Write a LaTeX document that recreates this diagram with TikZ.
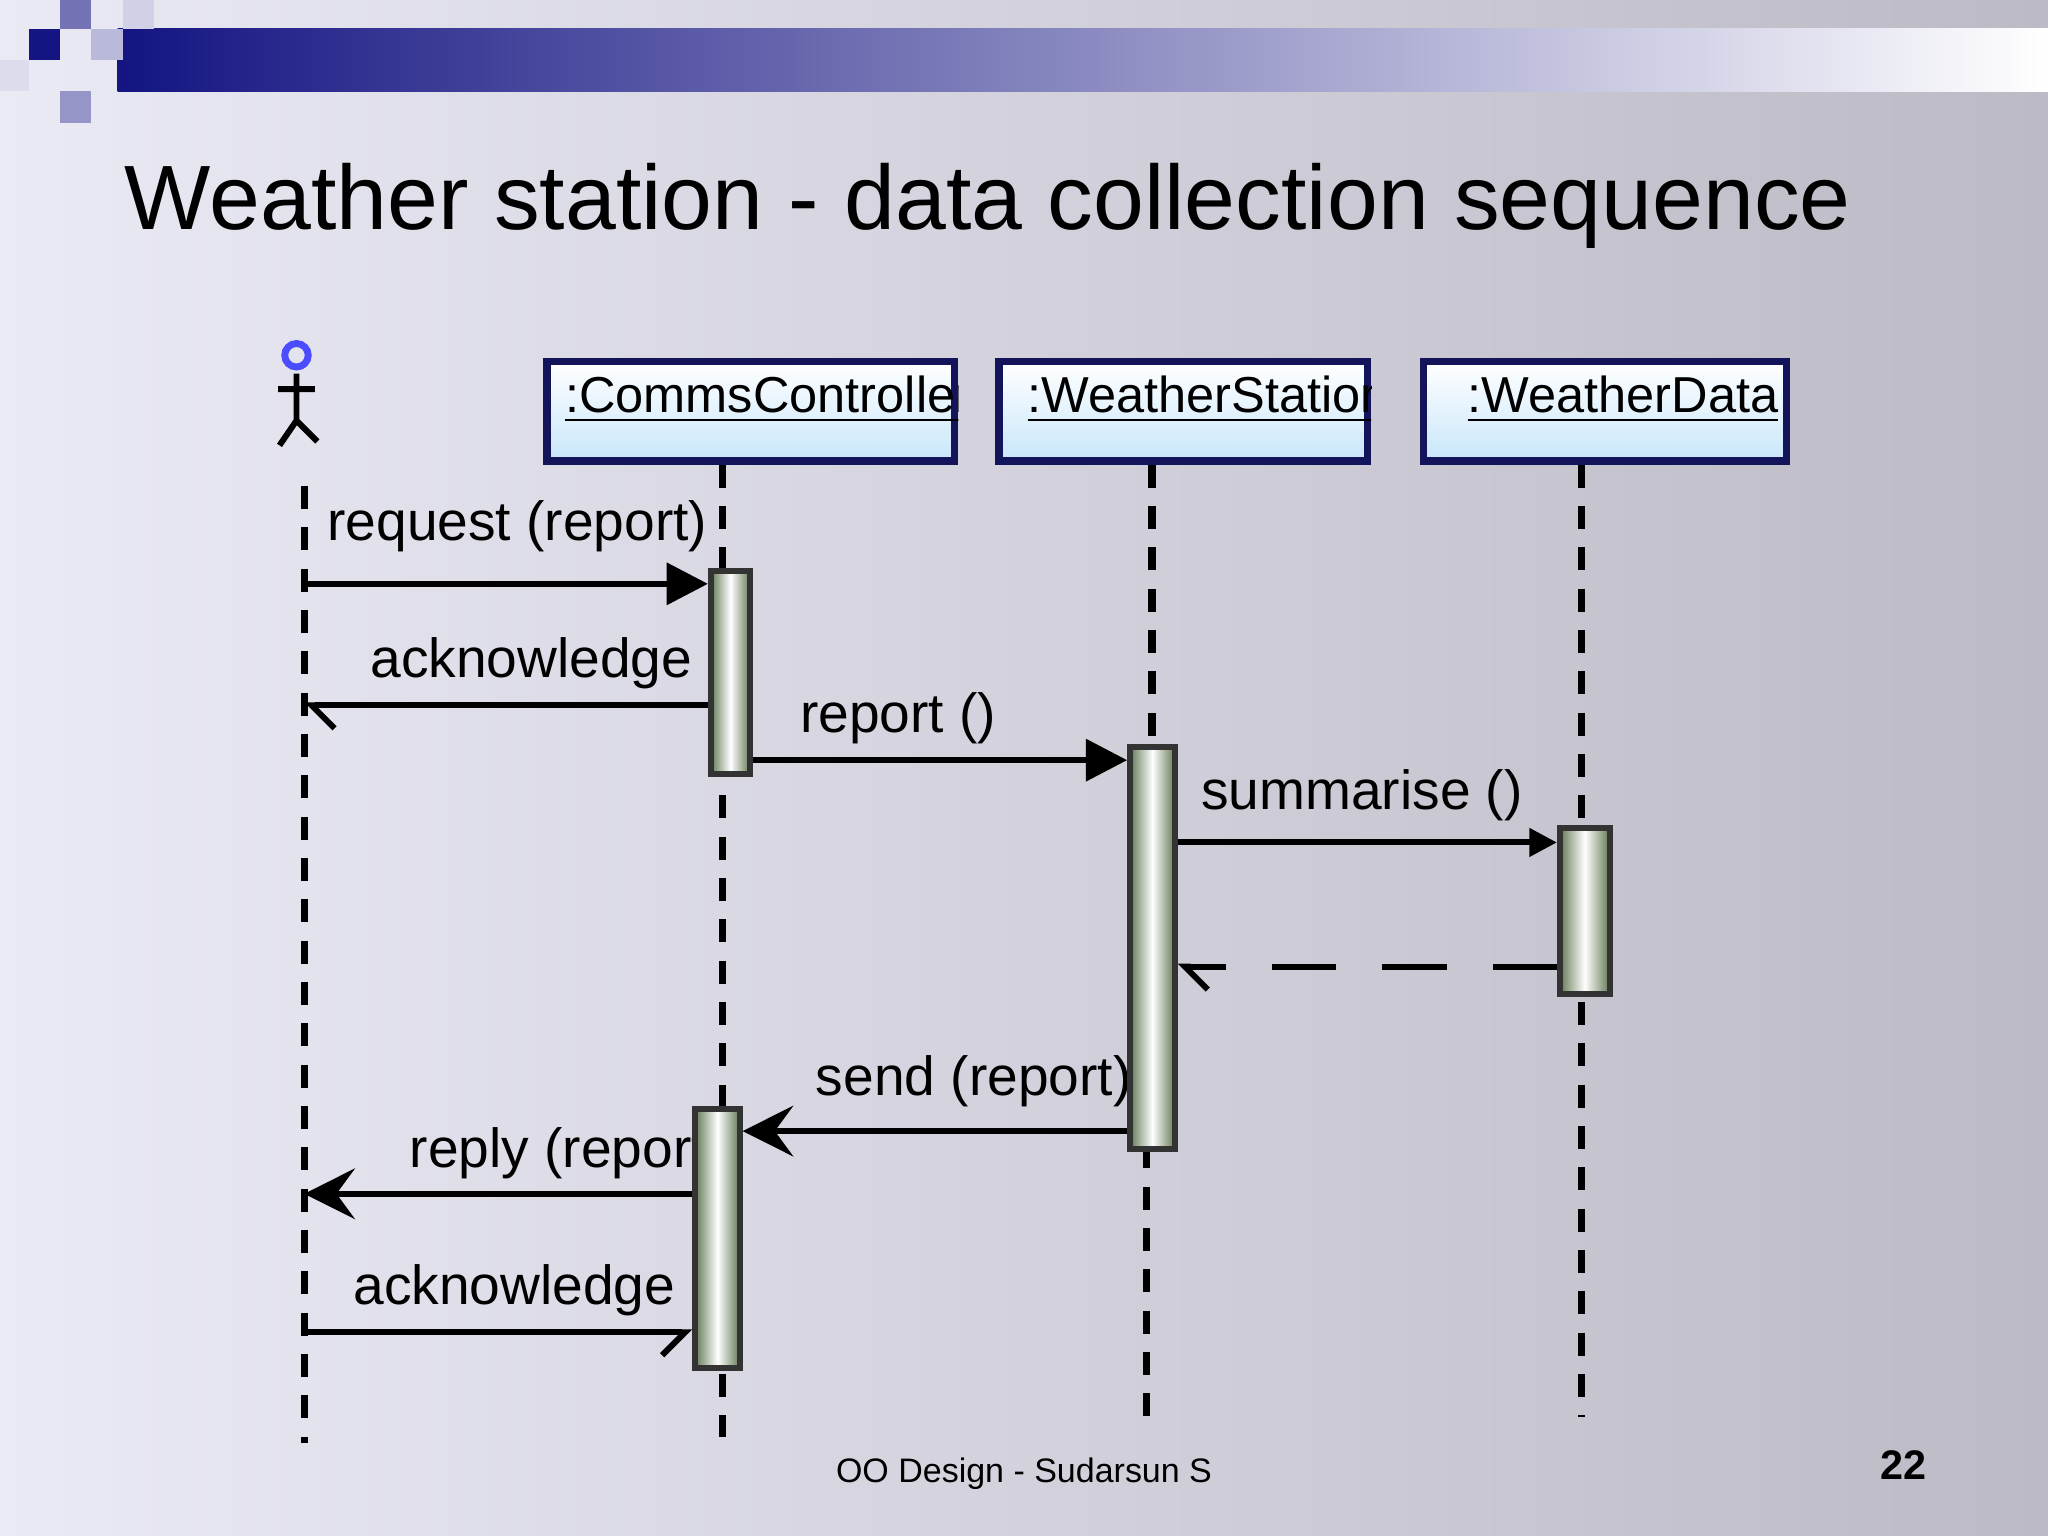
\documentclass[tikz,border=0pt]{standalone}
\usepackage{fontspec}
\setmainfont{Liberation Sans}
\usetikzlibrary{arrows.meta,shapes.geometric}
\definecolor{navy}{RGB}{20,20,130}
\definecolor{bgl}{RGB}{234,234,244}
\definecolor{bgr}{RGB}{188,186,196}
\definecolor{boxb}{RGB}{200,230,250}
\definecolor{actg}{RGB}{100,122,85}
\definecolor{bord}{RGB}{20,20,90}
\tikzset{
 obj/.style={draw=bord,line width=1.6pt,top color=white,bottom color=boxb,minimum height=0.76cm,inner sep=0,anchor=north west},
 act/.style={draw=black!80,line width=1.3pt,left color=actg,right color=actg,middle color=white,inner sep=0,anchor=north west},
 life/.style={line width=1.6pt,dash pattern=on 5pt off 4pt},
 msg/.style={line width=1.3pt},
 lab/.style={font=\fontsize{12}{13}\selectfont,anchor=base west,inner sep=0},
 otxt/.style={font=\fontsize{11}{12}\selectfont,anchor=base west,inner sep=0},
 full/.style={-{Triangle[length=9pt,width=9pt]}},
 open/.style={-{Straight Barb[harpoon,length=5pt,width=10pt]}},
 opensw/.style={-{Straight Barb[harpoon,swap,length=5pt,width=10pt]}},
 stl/.style={-{Stealth[length=11pt,width=11pt,inset=4pt]}},
}
\begin{document}
\begin{tikzpicture}[x=0.01cm,y=-0.01cm]
\useasboundingbox (0,0) rectangle (1568,1176);
\shade[left color=bgl,right color=bgr] (0,0) rectangle (1568,1176);
\shade[left color=navy,right color=white] (90,22) rectangle (1568,70);
\fill[navy] (22,22) rectangle (46,46);
\fill[navy!60] (46,0) rectangle (70,22);
\fill[navy!30] (70,22) rectangle (94,46);
\fill[navy!45] (46,70) rectangle (70,94);
\fill[navy!20] (94,0) rectangle (118,22);
\fill[navy!15] (0,46) rectangle (22,70);
\node[anchor=base west,inner sep=0,font=\fontsize{19.9}{22}\selectfont] (title) at (95,176) {Weather station - data collection sequence};
% actor
\draw[blue!70!white,line width=1.5pt] (227,272) circle (9);
\draw[black,line width=1.3pt] (227,286)--(227,322) (213,298)--(241,298) (227,322)--(214,341) (227,322)--(243,338);
% objects
\node[obj,minimum width=3.12cm] (cc) at (416,274) {};
\node[obj,minimum width=2.82cm] (ws) at (762,274) {};
\node[obj,minimum width=2.78cm] (wd) at (1087,274) {};
\begin{scope}\clip (cc.south west) rectangle (cc.north east);
\node[otxt] (cct) at (432,316) {\underline{:CommsController}};\end{scope}
\begin{scope}\clip (ws.south west) rectangle (ws.north east);
\node[otxt] (wst) at (786,316) {\underline{:WeatherStation}};\end{scope}
\begin{scope}\clip (wd.south west) rectangle (wd.north east);
\node[otxt] (wdt) at (1123,316) {\underline{:WeatherData}};\end{scope}
% lifelines
\coordinate (a0) at (233,372); \coordinate (a1) at (233,1105);
\draw[life] (a0)--(a1);
\draw[life] (cc.south -| 553,0) -- (553,1100);
\draw[life] (ws.south -| 882,0) -- (882,570);
\draw[life] (878,877) -- (878,1090);
\draw[life] (wd.south -| 1211,0) -- (1211,1085);
% labels
\node[lab] (l1) at (250,414) {request (report)};
\node[lab] (l2) at (283,519) {acknowledge ()};
\node[lab] (l3) at (612,561) {report ()};
\node[lab] (l4) at (919,620) {summarise ()};
\node[lab] (l5) at (624,839) {send (report)};
\node[lab] (l6) at (313,894) {reply (report)};
\node[lab] (l7) at (270,999) {acknowledge ()};
% activations
\node[act,minimum width=0.30cm,minimum height=1.55cm] (c1) at (542,435) {};
\node[act,minimum width=0.34cm,minimum height=3.07cm] (w1) at (863,570) {};
\node[act,minimum width=0.38cm,minimum height=1.27cm] (d1) at (1192,632) {};
\node[act,minimum width=0.34cm,minimum height=1.98cm] (c2) at (530,847) {};
% messages
\coordinate (p1) at (233,447); \coordinate (p2) at (233,540);
\coordinate (p6) at (233,914); \coordinate (p7) at (233,1020);
\draw[msg,full] (p1) -- (p1 -| c1.west);
\draw[msg,open] (p2 -| c1.west) -- (p2);
\draw[msg,full] (c1.east |- 0,582) -- (w1.west |- 0,582);
\draw[msg,-{Triangle[length=6pt,width=6pt]}] (w1.east |- 0,645) -- (d1.west |- 0,645);
\draw[msg,open,dash pattern=on 14pt off 10pt] (d1.west |- 0,740) -- (w1.east |- 0,740);
\draw[msg,stl] (w1.west |- 0,866) -- (c2.east |- 0,866);
\draw[msg,stl] (c2.west |- p6) -- (p6);
\draw[msg,opensw] (p7) -- (c2.west |- p7);
% footer
\node[font=\fontsize{7.4}{9}\selectfont,inner sep=0] (foot) at (784,1128) {OO Design - Sudarsun S};
\node[font=\bfseries\fontsize{9}{10}\selectfont,inner sep=0] (num) at (1457,1122) {22};
\end{tikzpicture}
\end{document}
